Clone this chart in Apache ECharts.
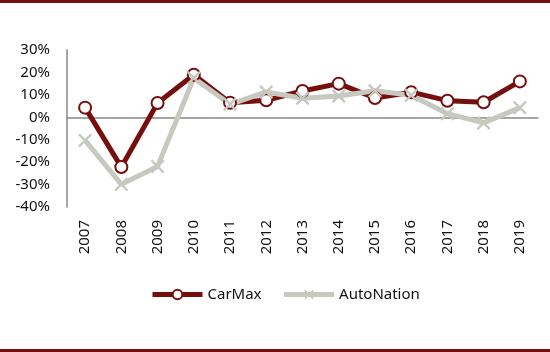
<!DOCTYPE html>
<html lang="en" style="height: 100%">
<head>
  <meta charset="utf-8">
</head>
<body style="height: 100%; margin: 0">
  <div id="container" style="width: 550px; height: 352px"></div>

  <script type="text/javascript" src="https://fastly.jsdelivr.net/npm/echarts@6/dist/echarts.min.js"></script>
  <script type="text/javascript">
    // growth rates in percent
    const years = ['2007', '2008', '2009', '2010', '2011', '2012', '2013', '2014', '2015', '2016', '2017', '2018', '2019'];
    const carMax = [4.3, -22.2, 6.4, 19, 6.5, 7.6, 11.7, 15, 8.6, 11.2, 7.4, 6.7, 16];
    const autoNation = [-10.3, -29.9, -21.9, 17.5, 5.8, 11.3, 8.5, 9.5, 11.8, 9.8, 1.6, -2.5, 4.3];

    const red = '#760e0e';
    const grey = '#c7c8bf';
    const font = 'Noto Sans';
    const crossPath = 'path://M0,1.2L1.2,0L5,3.8L8.8,0L10,1.2L6.2,5L10,8.8L8.8,10L5,6.2L1.2,10L0,8.8L3.8,5Z';

    var dom = document.getElementById('container');
    var myChart = echarts.init(dom, null, { renderer: 'canvas' });

    var option = {
      animation: false,
      backgroundColor: '#fff',
      textStyle: { fontFamily: font },
      grid: { left: 67, right: 12, top: 50, bottom: 145 },
      legend: {
        left: 145,
        top: 282,
        itemWidth: 50,
        itemHeight: 12,
        itemGap: 20,
        lineStyle: { width: 5 },
        textStyle: { fontSize: 15, color: '#111', fontFamily: font },
        data: ['CarMax', 'AutoNation']
      },
      xAxis: [
        {
          type: 'category',
          position: 'bottom',
          data: years,
          axisLine: { show: false, onZero: false },
          axisTick: { show: false },
          axisLabel: { rotate: 90, margin: 13, fontSize: 15, color: '#111' }
        },
        {
          type: 'category',
          position: 'bottom',
          data: years,
          axisLine: { onZero: true, lineStyle: { color: '#888', width: 1.5 } },
          axisTick: { inside: true, length: 6, lineStyle: { color: '#888', width: 1.5 } },
          axisLabel: { show: false }
        }
      ],
      yAxis: {
        type: 'value',
        min: -40,
        max: 30,
        interval: 10,
        splitLine: { show: false },
        axisLine: { show: true, lineStyle: { color: '#888', width: 1.5 } },
        axisTick: { show: false },
        axisLabel: { formatter: '{value}%', margin: 17, fontSize: 15, color: '#111' }
      },
      series: [
        {
          name: 'CarMax',
          type: 'line',
          data: carMax,
          symbol: 'circle',
          symbolSize: 12,
          lineStyle: { color: red, width: 5 },
          itemStyle: { color: '#fff', borderColor: red, borderWidth: 2 }
        },
        {
          name: 'AutoNation',
          type: 'line',
          data: autoNation,
          symbol: crossPath,
          symbolSize: 14,
          lineStyle: { color: grey, width: 5 },
          itemStyle: { color: grey }
        }
      ],
      graphic: {
        elements: [
          { type: 'rect', left: 0, top: 0, shape: { width: 550, height: 3 }, style: { fill: red } },
          { type: 'rect', left: 0, top: 349, shape: { width: 550, height: 3 }, style: { fill: red } }
        ]
      }
    };

    myChart.setOption(option);
    window.addEventListener('resize', myChart.resize);
  </script>
</body>
</html>
